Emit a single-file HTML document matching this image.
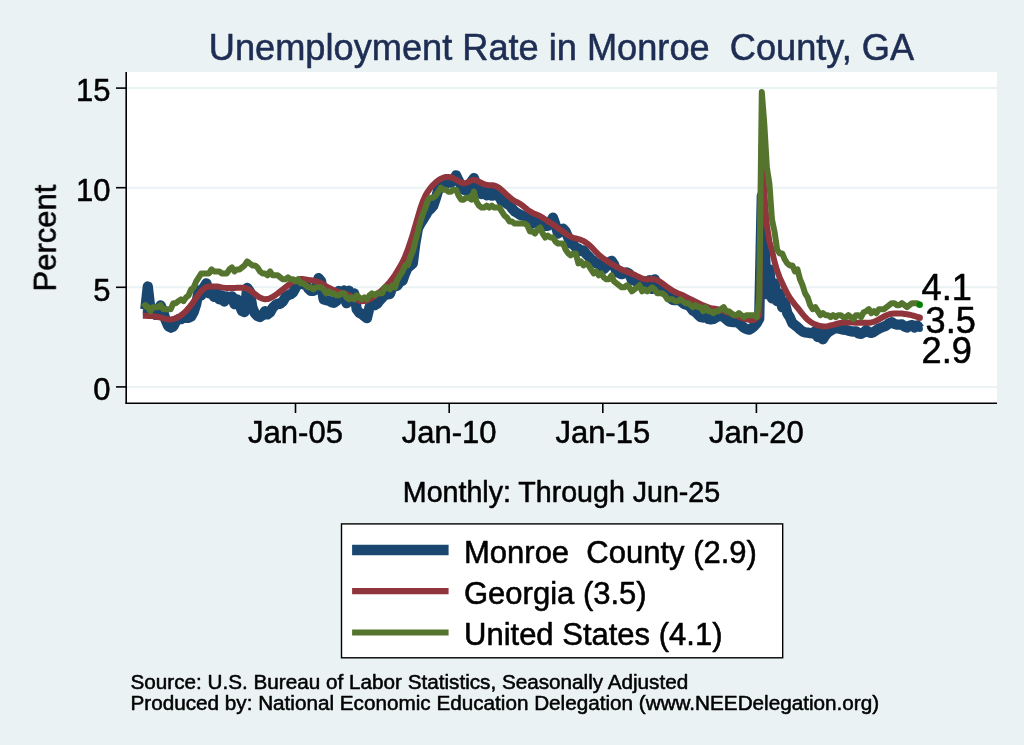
<!DOCTYPE html>
<html><head><meta charset="utf-8"><title>Unemployment Rate in Monroe County, GA</title>
<style>
html,body{margin:0;padding:0;background:#eaf2f3;}
svg{display:block;}
text{font-family:"Liberation Sans",sans-serif;fill:#000;stroke:#000;stroke-width:0.55px;stroke-linejoin:round;}
.t{opacity:0.999;}
</style></head><body>
<svg width="1024" height="745" viewBox="0 0 1024 745">
<rect x="0" y="0" width="1024" height="745" fill="#eaf2f3"/>
<rect x="126" y="72" width="871" height="331" fill="#ffffff"/>
<g stroke="#eaf2f3" stroke-width="2">
<line x1="126" x2="997" y1="88.1" y2="88.1"/>
<line x1="126" x2="997" y1="187.7" y2="187.7"/>
<line x1="126" x2="997" y1="287.3" y2="287.3"/>
<line x1="126" x2="997" y1="386.9" y2="386.9"/>
</g>
<g fill="none" stroke-linejoin="round" stroke-linecap="butt">
<path d="M142.8,309.2 L145.3,309.2 L147.8,286.5 L150.4,309.2 L152.9,312.2 L155.5,314.8 L158.0,309.2 L160.6,305.4 L163.1,311.2 L165.7,320.2 L168.2,326.1 L170.8,327.7 L173.3,326.5 L175.9,321.4 L178.4,319.2 L181.0,319.2 L183.5,317.8 L186.1,317.8 L188.6,317.8 L191.2,316.4 L193.7,312.0 L196.2,304.2 L198.8,290.3 L201.3,295.3 L203.9,287.3 L206.4,283.3 L209.0,293.3 L211.5,292.3 L214.1,296.9 L216.6,293.3 L219.2,299.3 L221.7,295.3 L224.3,301.6 L226.8,296.3 L229.4,298.3 L231.9,296.3 L234.5,304.2 L237.0,299.3 L239.6,305.2 L242.1,311.2 L244.6,312.0 L247.2,287.9 L249.7,291.3 L252.3,307.2 L254.8,313.2 L257.4,316.0 L259.9,317.0 L262.5,315.2 L265.0,311.2 L267.6,314.2 L270.1,312.4 L272.7,307.8 L275.2,305.2 L277.8,303.6 L280.3,303.8 L282.9,301.4 L285.4,297.1 L288.0,295.3 L290.5,294.3 L293.1,292.3 L295.6,287.7 L298.1,283.9 L300.7,282.5 L303.2,284.3 L305.8,284.7 L308.3,288.5 L310.9,290.9 L313.4,290.9 L316.0,289.3 L318.5,278.1 L321.1,281.3 L323.6,299.3 L326.2,300.2 L328.7,300.6 L331.3,302.2 L333.8,302.8 L336.4,301.2 L338.9,290.9 L341.5,298.3 L344.0,290.5 L346.5,303.2 L349.1,290.7 L351.6,301.2 L354.2,293.3 L356.7,309.2 L359.3,312.8 L361.8,314.0 L364.4,316.2 L366.9,318.2 L369.5,307.2 L372.0,305.6 L374.6,305.2 L377.1,303.8 L379.7,300.4 L382.2,297.7 L384.8,294.9 L387.3,294.5 L389.9,293.9 L392.4,287.3 L395.0,286.3 L397.5,285.5 L400.0,281.7 L402.6,280.7 L405.1,273.4 L407.7,267.6 L410.2,265.8 L412.8,263.4 L415.3,243.5 L417.9,228.5 L420.4,223.6 L423.0,219.6 L425.5,215.6 L428.1,211.2 L430.6,209.0 L433.2,206.0 L435.7,198.7 L438.3,189.7 L440.8,187.7 L443.4,185.7 L445.9,183.7 L448.4,182.7 L451.0,182.7 L453.5,179.7 L456.1,175.3 L458.6,180.7 L461.2,185.7 L463.7,189.7 L466.3,190.7 L468.8,187.7 L471.4,181.7 L473.9,178.1 L476.5,184.7 L479.0,191.7 L481.6,194.1 L484.1,191.7 L486.7,195.3 L489.2,192.1 L491.8,195.7 L494.3,192.5 L496.9,195.7 L499.4,196.7 L501.9,201.6 L504.5,201.6 L507.0,203.8 L509.6,205.4 L512.1,208.6 L514.7,211.4 L517.2,213.0 L519.8,214.6 L522.3,215.6 L524.9,216.2 L527.4,217.2 L530.0,220.6 L532.5,223.6 L535.1,220.0 L537.6,222.0 L540.2,223.6 L542.7,225.1 L545.3,225.9 L547.8,225.9 L550.3,222.6 L552.9,217.6 L555.4,224.6 L558.0,233.5 L560.5,231.5 L563.1,228.7 L565.6,231.5 L568.2,237.5 L570.7,243.5 L573.3,244.5 L575.8,247.5 L578.4,248.5 L580.9,251.0 L583.5,250.4 L586.0,253.8 L588.6,256.4 L591.1,259.4 L593.7,261.0 L596.2,263.4 L598.8,263.8 L601.3,266.4 L603.8,269.0 L606.4,266.4 L608.9,262.4 L611.5,260.8 L614.0,264.4 L616.6,272.0 L619.1,273.0 L621.7,274.2 L624.2,273.2 L626.8,272.4 L629.3,273.8 L631.9,279.9 L634.4,280.5 L637.0,282.1 L639.5,282.5 L642.1,282.9 L644.6,284.3 L647.2,288.3 L649.7,280.1 L652.2,288.9 L654.8,279.3 L657.3,286.3 L659.9,289.3 L662.4,291.3 L665.0,292.3 L667.5,294.3 L670.1,297.7 L672.6,299.8 L675.2,300.2 L677.7,300.2 L680.3,300.6 L682.8,303.0 L685.4,304.6 L687.9,305.2 L690.5,307.2 L693.0,310.6 L695.6,312.2 L698.1,314.8 L700.7,317.0 L703.2,317.6 L705.7,317.0 L708.3,319.0 L710.8,319.4 L713.4,319.0 L715.9,317.6 L718.5,316.2 L721.0,315.8 L723.6,317.0 L726.1,319.2 L728.7,321.4 L731.2,321.8 L733.8,322.2 L736.3,322.2 L738.9,323.2 L741.4,325.5 L744.0,327.7 L746.5,329.1 L749.1,329.7 L751.6,328.3 L754.1,326.3 L756.7,323.2 L759.2,318.8 L761.8,195.7 L764.3,239.5 L766.9,294.3 L769.4,269.4 L772.0,298.3 L774.5,283.3 L777.1,301.2 L779.6,293.3 L782.2,307.2 L784.7,302.2 L787.3,313.2 L789.8,317.2 L792.4,323.2 L794.9,325.1 L797.5,327.1 L800.0,329.5 L802.6,331.5 L805.1,332.3 L807.6,332.7 L810.2,333.1 L812.7,333.5 L815.3,331.1 L817.8,337.1 L820.4,333.1 L822.9,339.3 L825.5,335.1 L828.0,332.3 L830.6,330.7 L833.1,329.1 L835.7,328.1 L838.2,328.5 L840.8,329.1 L843.3,329.7 L845.9,329.9 L848.4,330.7 L851.0,331.3 L853.5,331.5 L856.0,331.3 L858.6,333.5 L861.1,333.9 L863.7,332.3 L866.2,330.1 L868.8,332.3 L871.3,332.9 L873.9,331.9 L876.4,330.1 L879.0,328.5 L881.5,327.5 L884.1,326.5 L886.6,325.3 L889.2,323.2 L891.7,322.2 L894.3,323.8 L896.8,324.6 L899.4,324.6 L901.9,324.4 L904.5,326.5 L907.0,327.5 L909.5,325.7 L912.1,325.1 L914.6,327.5 L917.2,325.5 L919.7,328.7" stroke="#1a476f" stroke-width="10.3"/>
<path d="M142.8,315.8 L145.3,315.8 L147.8,315.9 L150.4,315.9 L152.9,316.1 L155.5,316.5 L158.0,317.0 L160.6,317.6 L163.1,318.2 L165.7,318.9 L168.2,319.4 L170.8,319.4 L173.3,319.0 L175.9,318.2 L178.4,317.0 L181.0,315.4 L183.5,313.4 L186.1,310.9 L188.6,308.1 L191.2,304.9 L193.7,301.4 L196.2,297.7 L198.8,294.2 L201.3,291.2 L203.9,288.7 L206.4,287.1 L209.0,286.5 L211.5,286.4 L214.1,286.4 L216.6,286.4 L219.2,286.8 L221.7,287.4 L224.3,287.8 L226.8,287.9 L229.4,287.9 L231.9,287.9 L234.5,287.9 L237.0,287.8 L239.6,287.7 L242.1,287.7 L244.6,287.9 L247.2,288.7 L249.7,290.1 L252.3,291.9 L254.8,294.0 L257.4,296.0 L259.9,297.6 L262.5,298.7 L265.0,299.3 L267.6,299.1 L270.1,298.2 L272.7,296.8 L275.2,295.2 L277.8,293.3 L280.3,291.3 L282.9,289.3 L285.4,287.3 L288.0,285.3 L290.5,283.3 L293.1,281.5 L295.6,280.3 L298.1,279.5 L300.7,279.0 L303.2,279.1 L305.8,279.5 L308.3,279.9 L310.9,280.3 L313.4,280.8 L316.0,281.3 L318.5,282.1 L321.1,283.1 L323.6,284.5 L326.2,286.2 L328.7,287.7 L331.3,289.0 L333.8,290.2 L336.4,291.2 L338.9,292.0 L341.5,292.6 L344.0,293.3 L346.5,294.3 L349.1,295.4 L351.6,296.6 L354.2,298.0 L356.7,299.4 L359.3,300.7 L361.8,301.2 L364.4,301.1 L366.9,300.4 L369.5,299.3 L372.0,297.9 L374.6,296.2 L377.1,294.2 L379.7,292.1 L382.2,290.0 L384.8,287.5 L387.3,284.8 L389.9,281.9 L392.4,278.7 L395.0,274.9 L397.5,270.8 L400.0,266.6 L402.6,261.9 L405.1,256.4 L407.7,250.0 L410.2,242.5 L412.8,234.4 L415.3,225.8 L417.9,216.9 L420.4,208.3 L423.0,200.9 L425.5,195.4 L428.1,191.2 L430.6,187.7 L433.2,184.8 L435.7,182.4 L438.3,180.4 L440.8,178.8 L443.4,177.7 L445.9,177.0 L448.4,176.9 L451.0,177.4 L453.5,178.4 L456.1,179.6 L458.6,181.1 L461.2,182.5 L463.7,183.3 L466.3,182.9 L468.8,181.7 L471.4,180.4 L473.9,179.8 L476.5,180.5 L479.0,181.8 L481.6,183.0 L484.1,184.2 L486.7,185.0 L489.2,185.3 L491.8,185.3 L494.3,185.6 L496.9,186.6 L499.4,188.1 L501.9,190.2 L504.5,192.7 L507.0,195.1 L509.6,197.3 L512.1,199.4 L514.7,201.1 L517.2,202.3 L519.8,203.6 L522.3,205.4 L524.9,207.5 L527.4,209.6 L530.0,211.4 L532.5,212.9 L535.1,214.0 L537.6,215.1 L540.2,216.3 L542.7,217.7 L545.3,219.4 L547.8,221.1 L550.3,222.7 L552.9,224.5 L555.4,226.3 L558.0,228.1 L560.5,229.9 L563.1,231.7 L565.6,233.5 L568.2,235.3 L570.7,236.8 L573.3,237.8 L575.8,238.4 L578.4,239.1 L580.9,239.9 L583.5,241.0 L586.0,242.6 L588.6,244.5 L591.1,246.7 L593.7,249.5 L596.2,252.3 L598.8,254.7 L601.3,256.9 L603.8,258.8 L606.4,260.6 L608.9,262.2 L611.5,263.8 L614.0,265.3 L616.6,266.8 L619.1,268.2 L621.7,269.6 L624.2,270.6 L626.8,271.6 L629.3,272.6 L631.9,273.6 L634.4,274.8 L637.0,276.1 L639.5,277.3 L642.1,278.5 L644.6,279.1 L647.2,279.4 L649.7,279.3 L652.2,279.1 L654.8,279.4 L657.3,280.3 L659.9,281.7 L662.4,283.5 L665.0,285.4 L667.5,287.3 L670.1,289.0 L672.6,290.7 L675.2,292.1 L677.7,293.2 L680.3,294.2 L682.8,295.3 L685.4,296.6 L687.9,297.9 L690.5,299.1 L693.0,300.4 L695.6,301.7 L698.1,303.0 L700.7,304.2 L703.2,305.4 L705.7,306.3 L708.3,307.3 L710.8,308.1 L713.4,308.5 L715.9,308.9 L718.5,309.4 L721.0,310.1 L723.6,311.0 L726.1,311.9 L728.7,312.8 L731.2,313.8 L733.8,314.8 L736.3,315.8 L738.9,316.8 L741.4,317.7 L744.0,318.6 L746.5,319.4 L749.1,319.9 L751.6,320.1 L754.1,319.9 L756.7,317.9 L759.2,315.2 L761.8,143.9 L764.3,193.7 L766.9,225.5 L769.4,241.5 L772.0,250.8 L774.5,261.6 L777.1,270.6 L779.6,277.4 L782.2,283.0 L784.7,288.4 L787.3,293.4 L789.8,297.7 L792.4,301.3 L794.9,304.6 L797.5,307.7 L800.0,310.9 L802.6,314.1 L805.1,317.1 L807.6,319.7 L810.2,321.7 L812.7,323.3 L815.3,324.4 L817.8,325.3 L820.4,325.9 L822.9,326.3 L825.5,326.5 L828.0,326.1 L830.6,325.4 L833.1,324.8 L835.7,324.1 L838.2,323.5 L840.8,322.9 L843.3,322.6 L845.9,322.4 L848.4,322.4 L851.0,322.5 L853.5,322.6 L856.0,322.7 L858.6,322.7 L861.1,322.8 L863.7,322.8 L866.2,322.8 L868.8,322.7 L871.3,322.4 L873.9,321.8 L876.4,320.7 L879.0,319.4 L881.5,317.9 L884.1,316.5 L886.6,315.2 L889.2,314.2 L891.7,313.7 L894.3,313.5 L896.8,313.5 L899.4,313.5 L901.9,313.6 L904.5,313.9 L907.0,314.3 L909.5,314.7 L912.1,315.3 L914.6,316.0 L917.2,316.9 L919.7,317.8" stroke="#90353b" stroke-width="6.0"/>
<path d="M142.8,307.2 L145.3,305.2 L147.8,307.2 L150.4,311.2 L152.9,307.2 L155.5,307.2 L158.0,307.2 L160.6,305.2 L163.1,309.2 L165.7,309.2 L168.2,309.2 L170.8,309.2 L173.3,303.2 L175.9,303.2 L178.4,301.2 L181.0,299.3 L183.5,301.2 L186.1,297.3 L188.6,295.3 L191.2,289.3 L193.7,287.3 L196.2,281.3 L198.8,277.3 L201.3,273.4 L203.9,273.4 L206.4,273.4 L209.0,273.4 L211.5,269.4 L214.1,271.4 L216.6,271.4 L219.2,271.4 L221.7,273.4 L224.3,273.4 L226.8,273.4 L229.4,269.4 L231.9,267.4 L234.5,271.4 L237.0,269.4 L239.6,269.4 L242.1,267.4 L244.6,265.4 L247.2,261.4 L249.7,263.4 L252.3,265.4 L254.8,265.4 L257.4,267.4 L259.9,271.4 L262.5,273.4 L265.0,273.4 L267.6,275.3 L270.1,271.4 L272.7,275.3 L275.2,275.3 L277.8,275.3 L280.3,277.3 L282.9,279.3 L285.4,279.3 L288.0,277.3 L290.5,279.3 L293.1,279.3 L295.6,281.3 L298.1,279.3 L300.7,283.3 L303.2,283.3 L305.8,285.3 L308.3,287.3 L310.9,287.3 L313.4,289.3 L316.0,287.3 L318.5,287.3 L321.1,287.3 L323.6,289.3 L326.2,293.3 L328.7,291.3 L331.3,293.3 L333.8,293.3 L336.4,295.3 L338.9,295.3 L341.5,293.3 L344.0,293.3 L346.5,297.3 L349.1,299.3 L351.6,297.3 L354.2,299.3 L356.7,295.3 L359.3,297.3 L361.8,299.3 L364.4,297.3 L366.9,299.3 L369.5,295.3 L372.0,293.3 L374.6,295.3 L377.1,293.3 L379.7,293.3 L382.2,293.3 L384.8,287.3 L387.3,287.3 L389.9,289.3 L392.4,285.3 L395.0,287.3 L397.5,279.3 L400.0,275.3 L402.6,271.4 L405.1,265.4 L407.7,265.4 L410.2,257.4 L412.8,251.4 L415.3,241.5 L417.9,231.5 L420.4,221.6 L423.0,213.6 L425.5,207.6 L428.1,199.7 L430.6,197.7 L433.2,197.7 L435.7,195.7 L438.3,191.7 L440.8,187.7 L443.4,189.7 L445.9,189.7 L448.4,191.7 L451.0,191.7 L453.5,189.7 L456.1,189.7 L458.6,195.7 L461.2,199.7 L463.7,199.7 L466.3,197.7 L468.8,197.7 L471.4,199.7 L473.9,191.7 L476.5,201.6 L479.0,205.6 L481.6,207.6 L484.1,207.6 L486.7,205.6 L489.2,207.6 L491.8,205.6 L494.3,207.6 L496.9,207.6 L499.4,207.6 L501.9,211.6 L504.5,215.6 L507.0,217.6 L509.6,221.6 L512.1,221.6 L514.7,223.6 L517.2,223.6 L519.8,223.6 L522.3,223.6 L524.9,223.6 L527.4,225.5 L530.0,231.5 L532.5,231.5 L535.1,233.5 L537.6,229.5 L540.2,227.5 L542.7,233.5 L545.3,237.5 L547.8,235.5 L550.3,237.5 L552.9,237.5 L555.4,241.5 L558.0,243.5 L560.5,243.5 L563.1,243.5 L565.6,249.5 L568.2,253.4 L570.7,255.4 L573.3,253.4 L575.8,253.4 L578.4,263.4 L580.9,261.4 L583.5,265.4 L586.0,263.4 L588.6,265.4 L591.1,269.4 L593.7,273.4 L596.2,271.4 L598.8,275.3 L601.3,273.4 L603.8,277.3 L606.4,279.3 L608.9,279.3 L611.5,275.3 L614.0,281.3 L616.6,283.3 L619.1,285.3 L621.7,287.3 L624.2,287.3 L626.8,285.3 L629.3,287.3 L631.9,291.3 L634.4,289.3 L637.0,287.3 L639.5,285.3 L642.1,291.3 L644.6,289.3 L647.2,291.3 L649.7,289.3 L652.2,287.3 L654.8,289.3 L657.3,293.3 L659.9,293.3 L662.4,293.3 L665.0,295.3 L667.5,299.3 L670.1,299.3 L672.6,299.3 L675.2,301.2 L677.7,301.2 L680.3,299.3 L682.8,301.2 L685.4,303.2 L687.9,303.2 L690.5,305.2 L693.0,307.2 L695.6,305.2 L698.1,307.2 L700.7,307.2 L703.2,311.2 L705.7,307.2 L708.3,311.2 L710.8,311.2 L713.4,313.2 L715.9,311.2 L718.5,311.2 L721.0,309.2 L723.6,307.2 L726.1,311.2 L728.7,311.2 L731.2,313.2 L733.8,315.2 L736.3,315.2 L738.9,313.2 L741.4,315.2 L744.0,317.2 L746.5,315.2 L749.1,315.2 L751.6,315.2 L754.1,315.2 L756.7,317.2 L759.2,299.3 L761.8,92.1 L764.3,124.0 L766.9,167.8 L769.4,183.7 L772.0,219.6 L774.5,231.5 L777.1,249.5 L779.6,253.4 L782.2,253.4 L784.7,259.4 L787.3,263.4 L789.8,265.4 L792.4,265.4 L794.9,271.4 L797.5,269.4 L800.0,279.3 L802.6,285.3 L805.1,293.3 L807.6,297.3 L810.2,305.2 L812.7,309.2 L815.3,307.2 L817.8,311.2 L820.4,315.2 L822.9,313.2 L825.5,315.2 L828.0,315.2 L830.6,317.2 L833.1,315.2 L835.7,317.2 L838.2,315.2 L840.8,315.2 L843.3,317.2 L845.9,317.2 L848.4,315.2 L851.0,317.2 L853.5,319.2 L856.0,315.2 L858.6,315.2 L861.1,317.2 L863.7,312.2 L866.2,311.2 L868.8,309.2 L871.3,313.2 L873.9,311.2 L876.4,313.2 L879.0,309.2 L881.5,309.2 L884.1,309.2 L886.6,307.2 L889.2,305.2 L891.7,303.2 L894.3,303.2 L896.8,305.2 L899.4,305.2 L901.9,303.2 L904.5,305.2 L907.0,307.2 L909.5,305.2 L912.1,303.2 L914.6,303.2 L917.2,303.2 L919.7,305.2" stroke="#55752f" stroke-width="6.0"/>
</g>
<circle cx="919.7" cy="328.7" r="3.2" fill="#1a476f"/>
<circle cx="919.7" cy="317.8" r="3.2" fill="#90353b"/>
<circle cx="919.7" cy="304.8" r="3.2" fill="#008000"/>
<g stroke="#000" stroke-width="1.6" fill="none">
<line x1="126.2" x2="126.2" y1="72" y2="403.7"/>
<line x1="125.4" x2="997" y1="403.2" y2="403.2"/>
<line x1="116" x2="126" y1="88.1" y2="88.1"/>
<line x1="116" x2="126" y1="187.7" y2="187.7"/>
<line x1="116" x2="126" y1="287.3" y2="287.3"/>
<line x1="116" x2="126" y1="386.9" y2="386.9"/>
<line x1="295.5" x2="295.5" y1="403" y2="413"/>
<line x1="449.2" x2="449.2" y1="403" y2="413"/>
<line x1="602.8" x2="602.8" y1="403" y2="413"/>
<line x1="756.4" x2="756.4" y1="403" y2="413"/>
</g>
<g class="t">
<text x="561.5" y="60.4" font-size="36.2" text-anchor="middle" style="fill:#1e2d53;stroke:#1e2d53">Unemployment Rate in Monroe&#160; County, GA</text>
<g font-size="31" text-anchor="end">
<text x="110.5" y="100.6">15</text>
<text x="110.5" y="200.9">10</text>
<text x="110.5" y="300.5">5</text>
<text x="110.5" y="400.1">0</text>
</g>
<text transform="translate(55.8,238.0) rotate(-90)" font-size="31" text-anchor="middle">Percent</text>
<g font-size="31" text-anchor="middle">
<text x="295.5" y="443">Jan-05</text>
<text x="449.2" y="443">Jan-10</text>
<text x="602.8" y="443">Jan-15</text>
<text x="756.4" y="443">Jan-20</text>
</g>
<g font-size="36.2">
<text x="921.5" y="299.5">4.1</text>
<text x="925.5" y="333.0">3.5</text>
<text x="921.5" y="362.8">2.9</text>
</g>
<text x="561.5" y="502.4" font-size="28.6" text-anchor="middle">Monthly: Through Jun-25</text>
<rect x="341.5" y="523.9" width="441.2" height="133.9" fill="#fff" stroke="#000" stroke-width="1.4"/>
<line x1="352.1" x2="448.6" y1="549.9" y2="549.9" stroke="#1a476f" stroke-width="10.5"/>
<line x1="352.1" x2="448.6" y1="591.1" y2="591.1" stroke="#90353b" stroke-width="6.1"/>
<line x1="352.1" x2="448.6" y1="632.5" y2="632.5" stroke="#55752f" stroke-width="6.1"/>
<g font-size="31">
<text x="464" y="563.2">Monroe&#160; County (2.9)</text>
<text x="464" y="604">Georgia (3.5)</text>
<text x="464" y="644.8">United States (4.1)</text>
</g>
<g font-size="20.7" style="stroke-width:0.4px">
<text x="130.5" y="688.6">Source: U.S. Bureau of Labor Statistics, Seasonally Adjusted</text>
<text x="130.5" y="709.7">Produced by: National Economic Education Delegation (www.NEEDelegation.org)</text>
</g>
</g>
</svg>
</body></html>
